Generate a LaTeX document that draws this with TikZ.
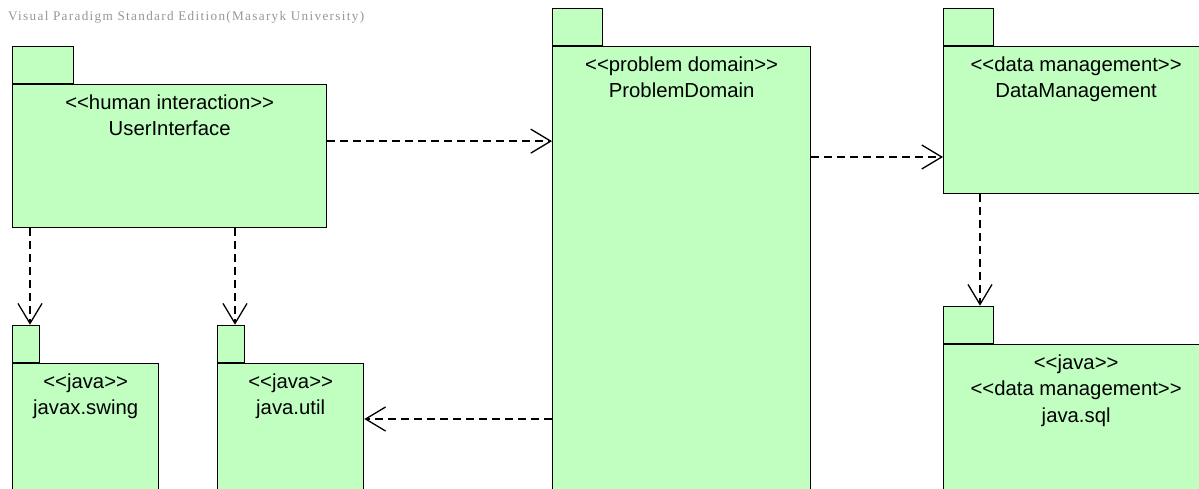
\documentclass[tikz,border=0pt]{standalone}
\usepackage{fontspec}
\setmainfont{Liberation Sans}
\newfontfamily\vpfont[LetterSpace=10]{Liberation Serif}
\usetikzlibrary{arrows.meta,positioning}
\definecolor{pkgfill}{RGB}{192,255,192}
\definecolor{wmgray}{RGB}{150,150,150}

\begin{document}
\begin{tikzpicture}[
  x=1pt, y=-1pt,
  >={Straight Barb[length=20pt,width=24pt,line width=1.3pt]},
  pkg/.style={draw, fill=pkgfill, line width=1.3pt, anchor=north west, inner sep=0pt, minimum height=200pt},
  tab/.style={draw, fill=pkgfill, line width=1.3pt, anchor=south west, inner sep=0pt, minimum height=37pt},
  pkgtext/.style={anchor=north, align=center, inner sep=0pt, font=\fontsize{20.3}{26.5}\selectfont},
  dep/.style={->, line width=1.3pt, dash pattern=on 8pt off 5pt}
]
\useasboundingbox (0,0) rectangle (1199,489);
\clip (0,0) rectangle (1199,489);

\node[anchor=west, inner sep=0pt, text=wmgray, font=\vpfont\fontsize{13.2}{15}\selectfont] (wm) at (8,17) {Visual Paradigm Standard Edition(Masaryk University)};

% packages
\node[pkg, minimum width=314pt, minimum height=143pt] (ui) at (12,84) {};
\node[tab, minimum width=61pt] (uitab) at (ui.north west) {};
\node[pkg, minimum width=258pt, minimum height=500pt] (pd) at (552,46) {};
\node[tab, minimum width=50pt] (pdtab) at (pd.north west) {};
\node[pkg, minimum width=265pt, minimum height=147pt] (dm) at (943,46) {};
\node[tab, minimum width=50pt] (dmtab) at (dm.north west) {};
\node[pkg, minimum width=146pt] (swing) at (12,363) {};
\node[tab, minimum width=27pt] (swingtab) at (swing.north west) {};
\node[pkg, minimum width=146pt] (util) at (217,363) {};
\node[tab, minimum width=27pt] (utiltab) at (util.north west) {};
\node[pkg, minimum width=265pt] (sql) at (943,344) {};
\node[tab, minimum width=50pt] (sqltab) at (sql.north west) {};

% names
\node[pkgtext, below=10.5pt of ui.north] (uitext) {<{}<human interaction>{}>\\UserInterface};
\node[pkgtext, below=10.5pt of pd.north] (pdtext) {<{}<problem domain>{}>\\ProblemDomain};
\node[pkgtext, below=10.5pt of dm.north] (dmtext) {<{}<data management>{}>\\DataManagement};
\node[pkgtext, below=10.5pt of swing.north] (swingtext) {<{}<java>{}>\\javax.swing};
\node[pkgtext, below=10.5pt of util.north] (utiltext) {<{}<java>{}>\\java.util};
\node[pkgtext, below=10.5pt of sql.north] (sqltext) {<{}<java>{}>\\<{}<data management>{}>\\java.sql};

% dependencies
\coordinate (uiout) at ([yshift=15pt]ui.east);
\coordinate (pdout) at ([yshift=-111pt]pd.north east);
\coordinate (pdback) at ([yshift=-56pt]util.north east);
\coordinate (uiswing) at ([xshift=18pt]ui.south west);
\coordinate (uiutil) at ([xshift=223pt]ui.south west);
\coordinate (dmsql) at ([xshift=37pt]dm.south west);
\draw[dep] (uiout) -- (uiout -| pd.west);
\draw[dep] (pdout) -- (pdout -| dm.west);
\draw[dep] (pdback -| pd.west) -- (pdback);
\draw[dep] (uiswing) -- (uiswing |- swingtab.north);
\draw[dep] (uiutil) -- (uiutil |- utiltab.north);
\draw[dep] (dmsql) -- (dmsql |- sqltab.north);
\end{tikzpicture}
\end{document}
